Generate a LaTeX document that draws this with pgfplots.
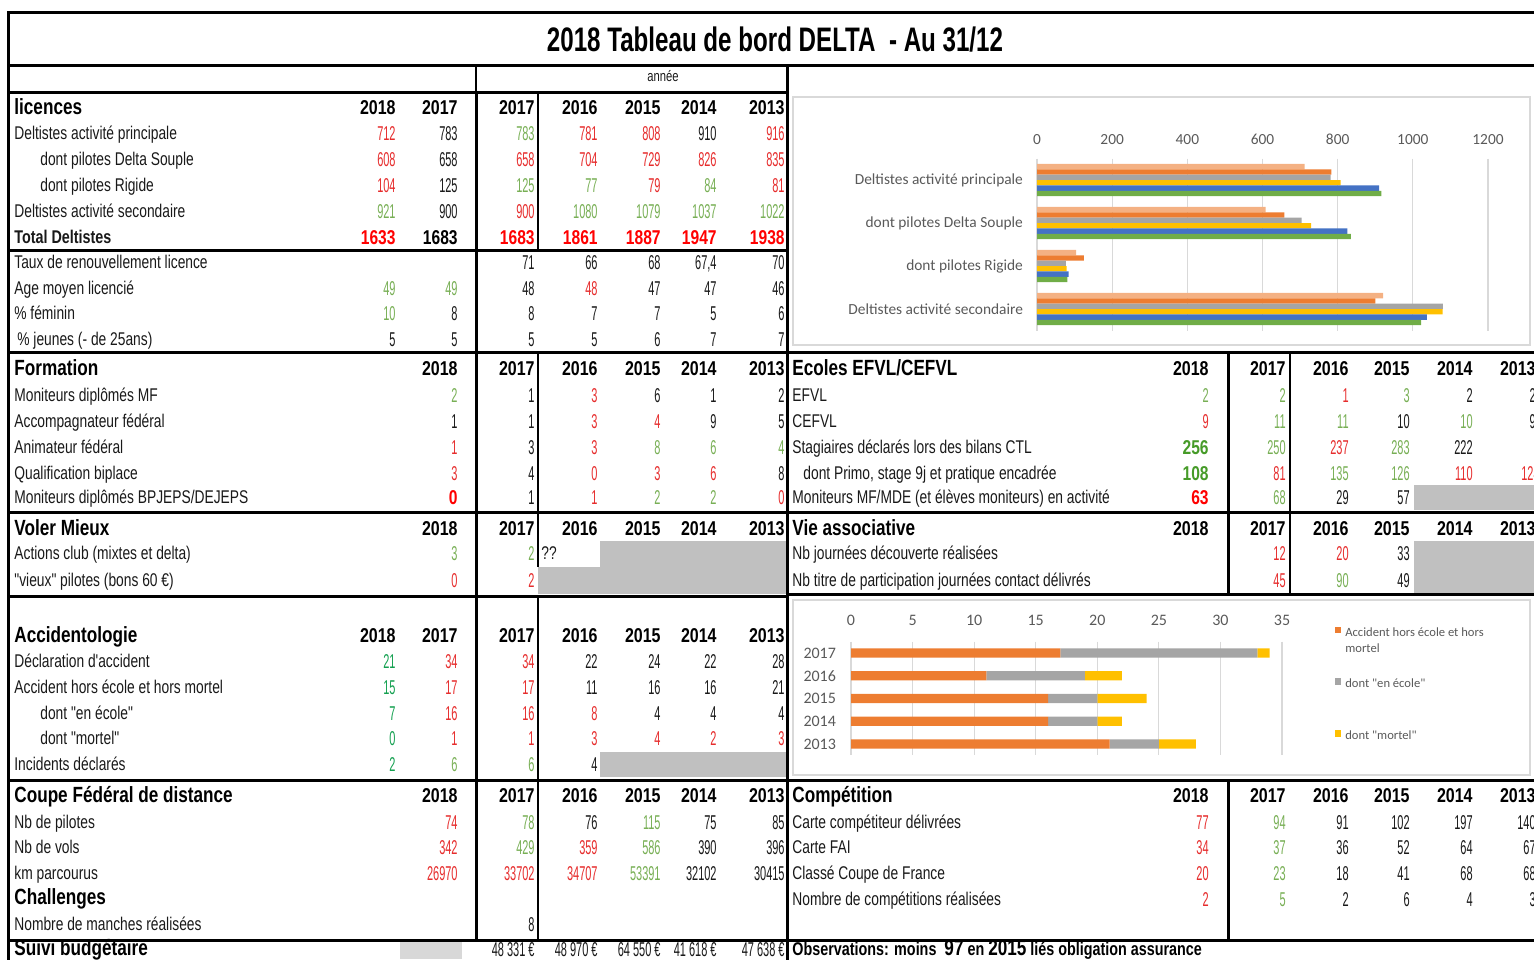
\documentclass[border=0pt]{standalone}
\usepackage{fontspec}
\setmainfont{Liberation Sans}
\newfontfamily\flab{Liberation Sans}[FakeStretch=0.75]
\newfontfamily\fnum{Liberation Sans}[FakeStretch=0.55]
\newfontfamily\fyr{Liberation Sans}[FakeStretch=0.8]
\newfontfamily\fsec{Liberation Sans}[FakeStretch=0.78]
\newfontfamily\fttl{Liberation Sans}[FakeStretch=0.71]
\newfontfamily\carl{Carlito}
\usepackage{pgfplots}
\pgfplotsset{compat=1.18}

\definecolor{ck}{RGB}{25,25,25}
\definecolor{cr}{RGB}{230,45,45}
\definecolor{cB}{RGB}{255,0,0}
\definecolor{cg}{RGB}{120,175,85}
\definecolor{cG}{RGB}{70,155,40}
\definecolor{ct}{RGB}{20,160,80}
\definecolor{cell}{RGB}{192,192,192}
\definecolor{cell2}{RGB}{216,216,216}
\definecolor{tlc}{RGB}{89,89,89}
\definecolor{cSal}{RGB}{244,177,131}
\definecolor{cOr}{RGB}{237,125,49}
\definecolor{cGr}{RGB}{165,165,165}
\definecolor{cYe}{RGB}{255,192,0}
\definecolor{cBl}{RGB}{68,114,196}
\definecolor{cGn}{RGB}{112,173,71}

\newcommand\bfv{\fsec\bfseries}
\newcommand\Lb[3]{\node[anchor=base west,inner sep=0pt,text=ck,font=\flab\fontsize{9.2}{10}\selectfont] at (#1,#2+6.5) {#3};}
\newcommand\Lbb[3]{\node[anchor=base west,inner sep=0pt,text=ck,font=\fsec\bfseries\fontsize{9.2}{10}\selectfont] at (#1,#2+6.5) {#3};}
\newcommand\Sec[3]{\node[anchor=base west,inner sep=0pt,text=black,font=\fsec\bfseries\fontsize{11}{12}\selectfont] at (#1,#2+7.5) {#3};}
\newcommand\Hy[2]{\foreach \xx/\yy in {#2}{\node[anchor=base east,inner sep=0pt,text=black,font=\fyr\bfseries\fontsize{10}{11}\selectfont] at (\xx,#1+7) {\yy};}}
\newcommand\Rv[2]{\foreach \xx/\vcol/\vtxt in {#2}{\node[anchor=base east,inner sep=0pt,text=\vcol,font=\fnum\fontsize{10}{11}\selectfont] at (\xx,#1+7) {\vtxt};}}

\begin{document}
\begin{tikzpicture}
\path[use as bounding box] (0,0) rectangle (767pt,-479.5pt);
\clip (0,0) rectangle (767pt,-479.5pt);
\begin{scope}[x=0.5pt,y=-0.5pt]
\tikzset{thk/.style={line width=1.5pt,black},thn/.style={line width=0.8pt,black}}
% grey cells
\fill[cell] (600,541) rectangle (787,567);
\fill[cell] (538,567) rectangle (787,594);
\fill[cell] (600,752) rectangle (787,777);
\fill[cell2] (400,942) rectangle (462,959);
\fill[cell] (1414,485) rectangle (1540,510);
\fill[cell] (1414,541) rectangle (1540,593);
% chart frames
\draw[gray!30,line width=0.7pt] (793,97) rectangle (1530,345);
\draw[gray!30,line width=0.7pt] (793,600) rectangle (1530,775);
% lines
\draw[thk] (8,12) -- (1540,12);
\draw[thk] (8,11) -- (8,965);
\draw[thk] (8,65) -- (1540,65);
\draw[thk] (8,92) -- (787,92);
\draw[thn] (476,65) -- (476,92);
\draw[thk] (787,65) -- (787,965);
\draw[thk] (476,92) -- (476,940);
\draw[thn] (538,92) -- (538,250);
\draw[thk] (8,250) -- (787,250);
\draw[thk] (8,352) -- (1540,352);
\draw[thn] (538,352) -- (538,567);
\draw[thk] (8,512) -- (1540,512);
\draw[thk] (8,596) -- (787,596);
\draw[thk] (787,594) -- (1540,594);
\draw[thn] (538,596) -- (538,940);
\draw[thk] (8,780) -- (1540,780);
\draw[thk] (8,940) -- (1540,940);
\draw[thk] (1228,352) -- (1228,594);
\draw[thn] (1290,352) -- (1290,594);
\draw[thk] (1228,780) -- (1228,940);
% title
\node[inner sep=0pt,font=\fttl\bfseries\fontsize{17}{18}\selectfont] at (775,40) {2018 Tableau de bord DELTA\ \ - Au 31/12};
\node[inner sep=0pt,text=ck,font=\flab\fontsize{7.5}{8}\selectfont] at (663,76) {année};
% licences
\Sec{14}{107}{licences}
\Hy{107}{396/2018,458/2017,535/2017,598/2016,661/2015,717/2014,785/2013}
\Lb{14}{133}{Deltistes activité principale}
\Rv{133}{396/cr/712,458/ck/783,535/cg/783,598/cr/781,661/cr/808,717/ck/910,785/cr/916}
\Lb{40}{159}{dont pilotes Delta Souple}
\Rv{159}{396/cr/608,458/ck/658,535/cr/658,598/cr/704,661/cr/729,717/cr/826,785/cr/835}
\Lb{40}{185}{dont pilotes Rigide}
\Rv{185}{396/cr/104,458/ck/125,535/cg/125,598/cg/77,661/cr/79,717/cg/84,785/cr/81}
\Lb{14}{211}{Deltistes activité secondaire}
\Rv{211}{396/cg/921,458/ck/900,535/cr/900,598/cg/1080,661/cg/1079,717/cg/1037,785/cg/1022}
\Lbb{14}{237}{Total Deltistes}
\Rv{237}{396/cB/{\bfv 1633},458/black/{\bfv 1683},535/cB/{\bfv 1683},598/cB/{\bfv 1861},661/cB/{\bfv 1887},717/cB/{\bfv 1947},785/cB/{\bfv 1938}}
\Lb{14}{262}{Taux de renouvellement licence}
\Rv{262}{535/ck/71,598/ck/66,661/ck/68,717/ck/{67,4},785/ck/70}
\Lb{14}{288}{Age moyen licencié}
\Rv{288}{396/cg/49,458/cg/49,535/ck/48,598/cr/48,661/ck/47,717/ck/47,785/ck/46}
\Lb{14}{313}{\% féminin}
\Rv{313}{396/cg/10,458/ck/8,535/ck/8,598/ck/7,661/ck/7,717/ck/5,785/ck/6}
\Lb{17}{339}{\% jeunes (- de 25ans)}
\Rv{339}{396/ck/5,458/ck/5,535/ck/5,598/ck/5,661/ck/6,717/ck/7,785/ck/7}
% Formation
\Sec{14}{368}{Formation}
\Hy{368}{458/2018,535/2017,598/2016,661/2015,717/2014,785/2013}
\Lb{14}{395}{Moniteurs diplômés MF}
\Rv{395}{458/cg/2,535/ck/1,598/cr/3,661/ck/6,717/ck/1,785/ck/2}
\Lb{14}{421}{Accompagnateur fédéral}
\Rv{421}{458/ck/1,535/ck/1,598/cr/3,661/cr/4,717/ck/9,785/ck/5}
\Lb{14}{447}{Animateur fédéral}
\Rv{447}{458/cr/1,535/ck/3,598/cr/3,661/cg/8,717/cg/6,785/cg/4}
\Lb{14}{473}{Qualification biplace}
\Rv{473}{458/cr/3,535/ck/4,598/cr/0,661/cr/3,717/cr/6,785/ck/8}
\Lb{14}{497}{Moniteurs diplômés BPJEPS/DEJEPS}
\Rv{497}{458/cB/{\bfv 0},535/ck/1,598/cr/1,661/cg/2,717/cg/2,785/cr/0}
% Voler mieux
\Sec{14}{528}{Voler Mieux}
\Hy{528}{458/2018,535/2017,598/2016,661/2015,717/2014,785/2013}
\Lb{14}{553}{Actions club (mixtes et delta)}
\Rv{553}{458/cg/3,535/cg/2}
\Lb{541}{553}{??}
\Lb{14}{580}{"vieux" pilotes (bons 60 €)}
\Rv{580}{458/cr/0,535/cr/2}
% Accidentologie
\Sec{14}{635}{Accidentologie}
\Hy{635}{396/2018,458/2017,535/2017,598/2016,661/2015,717/2014,785/2013}
\Lb{14}{661}{Déclaration d'accident}
\Rv{661}{396/ct/21,458/cr/34,535/cr/34,598/ck/22,661/ck/24,717/ck/22,785/ck/28}
\Lb{14}{687}{Accident hors école et hors mortel}
\Rv{687}{396/ct/15,458/cr/17,535/cr/17,598/ck/11,661/ck/16,717/ck/16,785/ck/21}
\Lb{40}{713}{dont "en école"}
\Rv{713}{396/ct/7,458/cr/16,535/cr/16,598/cr/8,661/ck/4,717/ck/4,785/ck/4}
\Lb{40}{738}{dont "mortel"}
\Rv{738}{396/ct/0,458/cr/1,535/cr/1,598/cr/3,661/cr/4,717/cr/2,785/cr/3}
\Lb{14}{764}{Incidents déclarés}
\Rv{764}{396/ct/2,458/cg/6,535/cg/6,598/ck/4}
% Coupe
\Sec{14}{795}{Coupe Fédéral de distance}
\Hy{795}{458/2018,535/2017,598/2016,661/2015,717/2014,785/2013}
\Lb{14}{822}{Nb de pilotes}
\Rv{822}{458/cr/74,535/cg/78,598/ck/76,661/cg/115,717/ck/75,785/ck/85}
\Lb{14}{847}{Nb de vols}
\Rv{847}{458/cr/342,535/cg/429,598/cr/359,661/cg/586,717/ck/390,785/ck/396}
\Lb{14}{873}{km parcourus}
\Rv{873}{458/cr/26970,535/cr/33702,598/cr/34707,661/cg/53391,717/ck/32102,785/ck/30415}
\Sec{14}{897}{Challenges}
\Lb{14}{924}{Nombre de manches réalisées}
\Rv{924}{535/ck/8}
\Sec{14}{948}{Suivi budgétaire}
\Rv{949}{535/ck/{48 331 €},598/ck/{48 970 €},661/ck/{64 550 €},717/ck/{41 618 €},785/ck/{47 638 €}}
% Ecoles
\Sec{792}{368}{Ecoles EFVL/CEFVL}
\Hy{368}{1209/2018,1286/2017,1349/2016,1410/2015,1473/2014,1536/2013}
\Lb{792}{395}{EFVL}
\Rv{395}{1209/cg/2,1286/cg/2,1349/cr/1,1410/cg/3,1473/ck/2,1536/ck/2}
\Lb{792}{421}{CEFVL}
\Rv{421}{1209/cr/9,1286/cg/11,1349/cg/11,1410/ck/10,1473/cg/10,1536/ck/9}
\Lb{792}{447}{Stagiaires déclarés lors des bilans CTL}
\Rv{447}{1209/cG/{\bfv 256},1286/cg/250,1349/cr/237,1410/cg/283,1473/ck/222}
\Lb{803}{473}{dont Primo, stage 9j et pratique encadrée}
\Rv{473}{1209/cG/{\bfv 108},1286/cr/81,1349/cg/135,1410/cg/126,1473/cr/110,1540/cr/124}
\Lb{792}{497}{Moniteurs MF/MDE (et élèves moniteurs) en activité}
\Rv{497}{1209/cB/{\bfv 63},1286/cg/68,1349/ck/29,1410/ck/57}
% Vie associative
\Sec{792}{528}{Vie associative}
\Hy{528}{1209/2018,1286/2017,1349/2016,1410/2015,1473/2014,1536/2013}
\Lb{792}{553}{Nb journées découverte réalisées}
\Rv{553}{1286/cr/12,1349/cr/20,1410/ck/33}
\Lb{792}{580}{Nb titre de participation journées contact délivrés}
\Rv{580}{1286/cr/45,1349/cg/90,1410/ck/49}
% Competition
\Sec{792}{795}{Compétition}
\Hy{795}{1209/2018,1286/2017,1349/2016,1410/2015,1473/2014,1536/2013}
\Lb{792}{822}{Carte compétiteur délivrées}
\Rv{822}{1209/cr/77,1286/cg/94,1349/ck/91,1410/ck/102,1473/ck/197,1536/ck/140}
\Lb{792}{847}{Carte FAI}
\Rv{847}{1209/cr/34,1286/cg/37,1349/ck/36,1410/ck/52,1473/ck/64,1536/ck/67}
\Lb{792}{873}{Classé Coupe de France}
\Rv{873}{1209/cr/20,1286/cg/23,1349/ck/18,1410/ck/41,1473/ck/68,1536/ck/68}
\Lb{792}{899}{Nombre de compétitions réalisées}
\Rv{899}{1209/cr/2,1286/cg/5,1349/ck/2,1410/ck/6,1473/ck/4,1536/ck/3}
\node[anchor=base west,inner sep=0pt,font=\fsec\bfseries\fontsize{9.2}{10}\selectfont] at (792,955) {Observations: moins\ \ {\fontsize{11}{12}\selectfont 97} en {\fontsize{11}{12}\selectfont 2015} liés obligation assurance};
\end{scope}

% chart 1
\begin{axis}[
  at={(518.5pt,-79.25pt)}, anchor=north west,
  scale only axis, width=225.5pt, height=86pt,
  xbar, y dir=reverse,
  xmin=0, xmax=1200, ymin=-0.5, ymax=3.5,
  xtick={0,200,400,600,800,1000,1200},
  xticklabel pos=upper,
  ytick={0,1,2,3},
  yticklabels={Deltistes activité principale,dont pilotes Delta Souple,dont pilotes Rigide,Deltistes activité secondaire},
  axis line style={draw=none},
  major tick length=0pt,
  xmajorgrids, grid style={draw=gray!30, line width=0.6pt},
  tick label style={font=\carl\fontsize{7.7}{9}\selectfont, text=tlc},
  xticklabel style={yshift=3.5pt},
  yticklabel style={xshift=-3.5pt},
  /pgf/number format/assume math mode=true,
  /pgf/number format/1000 sep={},
  bar width=0.125,
]
\addplot[fill=cSal, draw=none, bar shift=-0.3125] coordinates {(712,0) (608,1) (104,2) (921,3)};
\addplot[fill=cOr, draw=none, bar shift=-0.1875] coordinates {(783,0) (658,1) (125,2) (900,3)};
\addplot[fill=cGr, draw=none, bar shift=-0.0625] coordinates {(781,0) (704,1) (77,2) (1080,3)};
\addplot[fill=cYe, draw=none, bar shift=0.0625] coordinates {(808,0) (729,1) (79,2) (1079,3)};
\addplot[fill=cBl, draw=none, bar shift=0.1875] coordinates {(910,0) (826,1) (84,2) (1037,3)};
\addplot[fill=cGn, draw=none, bar shift=0.3125] coordinates {(916,0) (835,1) (81,2) (1022,3)};
\end{axis}

% chart 2
\begin{axis}[
  at={(425.5pt,-320.8pt)}, anchor=north west,
  scale only axis, width=215.5pt, height=56.9pt,
  xbar stacked, y dir=reverse,
  xmin=0, xmax=35, ymin=-0.5, ymax=4.5,
  xtick={0,5,10,15,20,25,30,35},
  xticklabel pos=upper,
  ytick={0,1,2,3,4},
  yticklabels={2017,2016,2015,2014,2013},
  axis line style={draw=none},
  major tick length=0pt,
  xmajorgrids, grid style={draw=gray!30, line width=0.6pt},
  tick label style={font=\carl\fontsize{8}{9}\selectfont, text=tlc},
  xticklabel style={yshift=4.5pt},
  yticklabel style={xshift=-4pt},
  /pgf/number format/assume math mode=true,
  bar width=0.4,
  legend style={at={(1.108,1.20)}, anchor=north west, draw=none, fill=none,
    font=\carl\fontsize{6.3}{8}\selectfont, text=tlc, row sep=16pt},
  legend cell align=left,
  legend image code/.code={\fill[#1] (0pt,0pt) rectangle (3.2pt,3.2pt);},
]
\addplot[fill=cOr, draw=none] coordinates {(17,0) (11,1) (16,2) (16,3) (21,4)};
\addplot[fill=cGr, draw=none] coordinates {(16,0) (8,1) (4,2) (4,3) (4,4)};
\addplot[fill=cYe, draw=none] coordinates {(1,0) (3,1) (4,2) (2,3) (3,4)};
\addlegendentry{\parbox[t]{85pt}{Accident hors école et hors\\mortel}}
\addlegendentry{dont "en école"}
\addlegendentry{dont "mortel"}
\end{axis}
\end{tikzpicture}
\end{document}
